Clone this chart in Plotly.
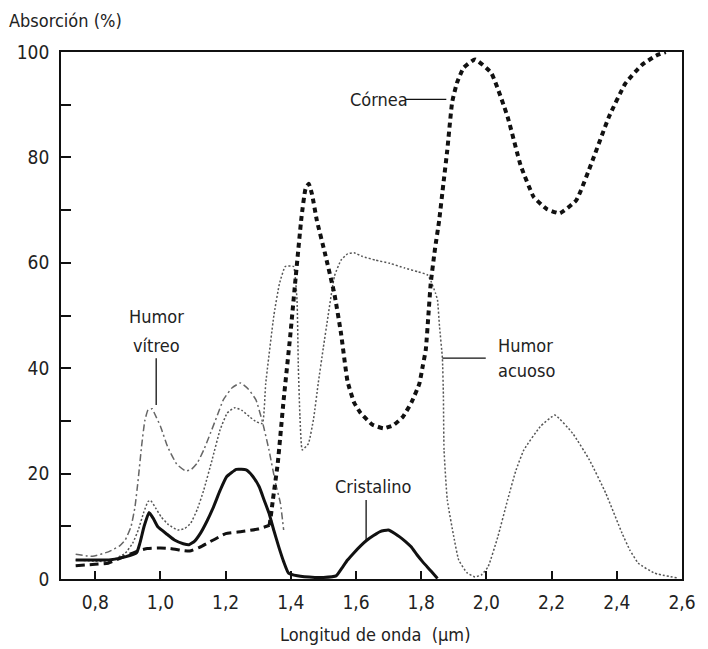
import plotly.graph_objects as go

# ---- data ----
cornea_x = [0.74, 0.80, 0.84, 0.89, 0.93, 0.96, 1.00, 1.03, 1.07, 1.09, 1.12, 1.15, 1.20, 1.25, 1.30, 1.335,
            1.345, 1.36, 1.378, 1.398, 1.413, 1.433, 1.445, 1.455, 1.465, 1.48, 1.504, 1.534, 1.554, 1.574,
            1.594, 1.614, 1.65, 1.684, 1.715, 1.744, 1.77, 1.794, 1.805, 1.814, 1.822, 1.829, 1.842, 1.855,
            1.868, 1.88, 1.895, 1.91, 1.93, 1.965, 2.015, 2.065, 2.105, 2.145, 2.185, 2.225, 2.276, 2.326,
            2.376, 2.426, 2.476, 2.52, 2.55]
cornea_y = [2.5, 2.8, 3.0, 4.3, 5.3, 5.8, 5.9, 5.8, 5.4, 5.3, 6.0, 7.0, 8.6, 9.0, 9.5, 10.2,
            15, 22, 34, 46, 56, 68.8, 74, 75, 73, 68, 62, 54, 46.6, 37.5,
            33.5, 31.5, 29.3, 28.6, 29.2, 30.8, 33.5, 37, 40.5, 43.5, 50, 56, 62.5, 68,
            75, 81.4, 90.5, 94.2, 97, 98.6, 96, 87.7, 78.5, 72.5, 70.2, 69.4, 71.9, 79.5,
            87.7, 94, 97.5, 99.3, 100]

cristalino_x = [0.74, 0.80, 0.842, 0.892, 0.927, 0.937, 0.95, 0.965, 0.978, 0.992, 1.02, 1.043, 1.07, 1.088,
                1.105, 1.123, 1.143, 1.163, 1.183, 1.203, 1.233, 1.263, 1.283, 1.303, 1.318, 1.333, 1.348,
                1.363, 1.378, 1.393, 1.42, 1.474, 1.50, 1.539, 1.556, 1.574, 1.594, 1.614, 1.634, 1.655,
                1.674, 1.699, 1.72, 1.734, 1.752, 1.769, 1.787, 1.804, 1.83, 1.85]
cristalino_y = [3.6, 3.6, 3.6, 4.2, 5.0, 6.8, 10, 12.6, 11.5, 9.9, 8.5, 7.4, 6.7, 6.5,
                7.2, 8.7, 11, 13.7, 16.8, 19.4, 20.8, 20.7, 19.5, 17.5, 15, 12.5, 9.2,
                6.1, 3.3, 1.1, 0.6, 0.3, 0.3, 0.6, 2, 3.6, 5, 6.3, 7.4, 8.3,
                9.0, 9.3, 8.6, 8.0, 7.1, 6.1, 4.6, 3.3, 1.5, 0.1]

vitreo_x = [0.74, 0.792, 0.842, 0.875, 0.892, 0.91, 0.922, 0.932, 0.942, 0.952, 0.962, 0.975, 0.982, 1.0,
            1.022, 1.05, 1.077, 1.095, 1.113, 1.133, 1.153, 1.173, 1.193, 1.22, 1.246, 1.27, 1.293, 1.313,
            1.333, 1.353, 1.368, 1.378]
vitreo_y = [4.7, 4.3, 5.2, 6.3, 7.4, 10, 13.7, 19, 25.1, 30, 32.1, 32.3, 31.4, 29,
            25.1, 21.8, 20.5, 20.8, 22, 24.5, 27.6, 30.8, 34, 36.3, 37.2, 36, 34, 29.8,
            24.5, 18.2, 14.4, 9.3]

acuoso_x = [0.74, 0.80, 0.842, 0.892, 0.915, 0.932, 0.948, 0.962, 0.97, 0.985, 1.002, 1.025, 1.053, 1.075,
            1.093, 1.113, 1.133, 1.158, 1.183, 1.205, 1.228, 1.25, 1.273, 1.295, 1.313, 1.323, 1.348, 1.365,
            1.383, 1.408, 1.419, 1.423, 1.428, 1.435, 1.454, 1.47, 1.484, 1.50, 1.514, 1.534, 1.554, 1.574,
            1.594, 1.62, 1.66, 1.704, 1.75, 1.79, 1.819, 1.83, 1.844, 1.85, 1.856, 1.865, 1.868, 1.87,
            1.88, 1.90, 1.915, 1.94, 1.965, 1.985, 2.005, 2.035, 2.065, 2.09, 2.115, 2.165, 2.21, 2.265,
            2.316, 2.366, 2.416, 2.44, 2.466, 2.516, 2.586]
acuoso_y = [3.6, 3.4, 3.3, 4.9, 6.8, 9.3, 12.5, 14.7, 14.9, 13.5, 11.8, 10.3, 9.3, 9.6,
            10.6, 13.2, 16.9, 22.5, 28.3, 31.5, 32.5, 32, 30.8, 29.8, 29.5, 37.1, 50, 56,
            59.3, 59.3, 52.9, 40.3, 30.8, 24.5, 25.7, 30.5, 37.1, 44, 49.8, 57.5, 60.5, 61.7,
            61.9, 61.2, 60.5, 59.9, 59, 58.3, 57.7, 56.5, 54.2, 52.9, 48, 41.9, 35, 24.5,
            15, 8, 3.6, 1.2, 0.4, 0.8, 2.3, 8, 15, 20.5, 24.5, 28.9, 31.1, 27.6,
            22.6, 16.3, 8.7, 5.5, 3, 1.1, 0.2]

x_tick_vals = [0.8, 1.0, 1.2, 1.4, 1.6, 1.8, 2.0, 2.2, 2.4, 2.6]
x_tick_text = ["0,8", "1,0", "1,2", "1,4", "1,6", "1,8", "2,0", "2,2", "2,4", "2,6"]
y_tick_vals = [0, 10, 20, 30, 40, 50, 60, 70, 80, 90, 100]
y_tick_text = ["0", "", "20", "", "40", "", "60", "", "80", "", "100"]

FONT = "DejaVu Sans Condensed, Liberation Sans Narrow, sans-serif"
TXT = "#222222"

fig = go.Figure()

fig.add_trace(go.Scatter(x=acuoso_x, y=acuoso_y, mode="lines", name="Humor acuoso",
                         line=dict(color="#555555", width=1.5, dash="2px,2px", shape="spline", smoothing=0.4)))
fig.add_trace(go.Scatter(x=vitreo_x, y=vitreo_y, mode="lines", name="Humor vítreo",
                         line=dict(color="#666666", width=1.5, dash="7px,3px,2px,3px", shape="spline", smoothing=0.4)))
fig.add_trace(go.Scatter(x=cristalino_x, y=cristalino_y, mode="lines", name="Cristalino",
                         line=dict(color="#111111", width=3, shape="spline", smoothing=0.4)))

split = next(i for i, v in enumerate(cornea_x) if v > 1.335)
fig.add_trace(go.Scatter(x=cornea_x[:split], y=cornea_y[:split], mode="lines", name="Córnea",
                         line=dict(color="#111111", width=3, dash="9px,5px", shape="spline", smoothing=0.4)))
fig.add_trace(go.Scatter(x=cornea_x[split - 1:], y=cornea_y[split - 1:], mode="lines", name="Córnea",
                         line=dict(color="#111111", width=4, dash="5px,4px", shape="spline", smoothing=0.4)))

line_style = dict(color="#111111", width=1.3)
fig.add_shape(type="line", xref="x", yref="y", x0=1.75, x1=1.877, y0=91, y1=91, line=line_style)
fig.add_shape(type="line", xref="x", yref="y", x0=0.987, x1=0.987, y0=33, y1=41.9, line=line_style)
fig.add_shape(type="line", xref="x", yref="y", x0=1.865, x1=1.998, y0=41.9, y1=41.9, line=line_style)
fig.add_shape(type="line", xref="x", yref="y", x0=1.631, x1=1.631, y0=7.4, y1=15, line=line_style)

labels = [
    ("Córnea", 1.672, 91, "center"),
    ("Humor", 0.989, 49.9, "center"),
    ("vítreo", 0.989, 44.4, "center"),
    ("Humor", 2.028, 44.4, "left"),
    ("acuoso", 2.028, 39.5, "left"),
    ("Cristalino", 1.652, 17.5, "center"),
]
for text, lx, ly, anchor in labels:
    fig.add_annotation(text=text, x=lx, y=ly, xref="x", yref="y", xanchor=anchor, yanchor="middle",
                       showarrow=False, font=dict(family=FONT, size=18, color=TXT))

fig.add_annotation(text="Absorción (%)", x=-0.087, y=1.0607, xref="paper", yref="paper",
                   xanchor="left", yanchor="middle", showarrow=False,
                   font=dict(family=FONT, size=18, color=TXT))
fig.add_annotation(text="Longitud de onda  (μm)", x=1.657, y=-0.106, xref="x", yref="paper",
                   xanchor="center", yanchor="middle", showarrow=False,
                   font=dict(family=FONT, size=18, color=TXT))

fig.update_layout(
    width=708, height=649,
    margin=dict(l=61, r=12, t=52, b=70),
    paper_bgcolor="white", plot_bgcolor="white",
    showlegend=False,
    font=dict(family=FONT, size=19, color=TXT),
    xaxis=dict(range=[0.695, 2.6], tickvals=x_tick_vals, ticktext=x_tick_text,
               ticks="inside", ticklen=8, tickwidth=1.8, tickcolor="#111111",
               showline=True, linewidth=1.8, linecolor="#111111", mirror=True,
               showgrid=False, zeroline=False, ticklabelstandoff=5,
               tickfont=dict(family=FONT, size=19, color=TXT)),
    yaxis=dict(range=[0, 100], tickvals=y_tick_vals, ticktext=y_tick_text,
               ticks="inside", ticklen=10, tickwidth=1.8, tickcolor="#111111",
               showline=True, linewidth=1.8, linecolor="#111111", mirror=True,
               showgrid=False, zeroline=False, ticklabelstandoff=6,
               tickfont=dict(family=FONT, size=19, color=TXT)),
)

fig.write_html("out.html", config={"displayModeBar": False},
               post_script="document.body.style.margin='0';document.body.style.overflow='hidden';")
